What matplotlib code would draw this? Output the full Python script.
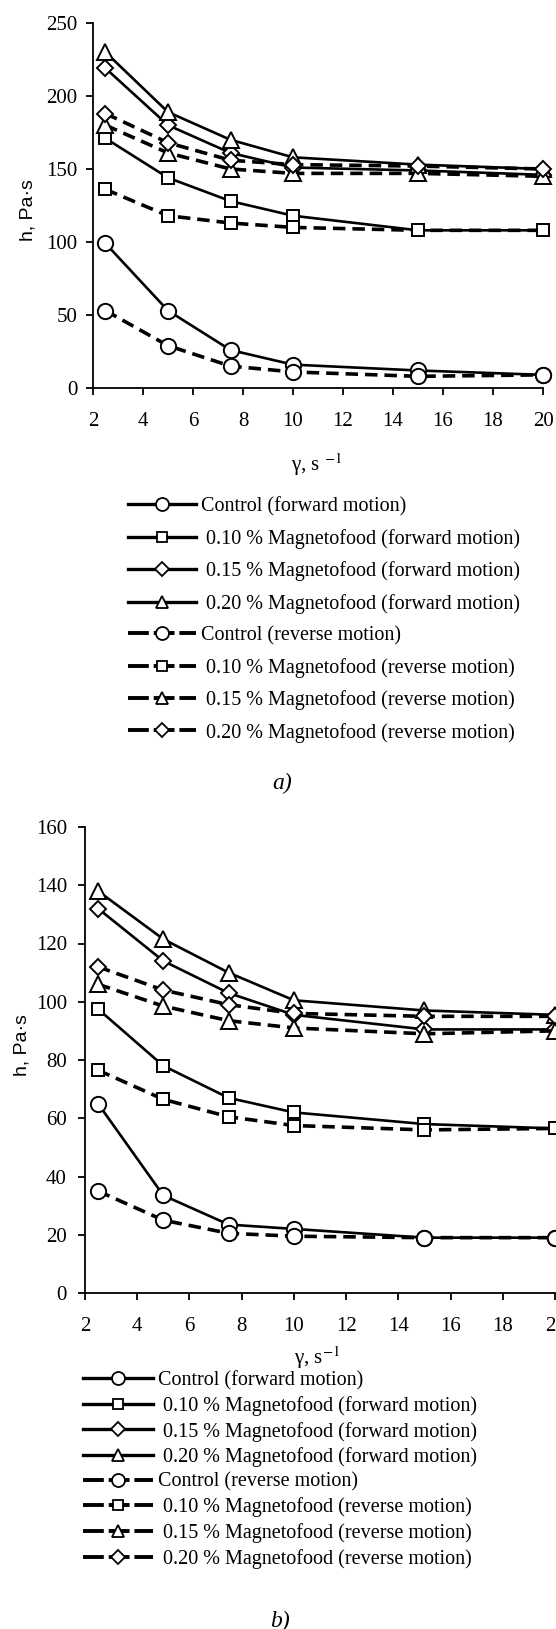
import matplotlib
matplotlib.use('Agg')
import matplotlib.pyplot as plt
from matplotlib.lines import Line2D

plt.rcParams['font.family'] = ['Liberation Serif', 'DejaVu Serif']
plt.rcParams['mathtext.fontset'] = 'stix'
plt.rcParams['lines.scale_dashes'] = False

shear_rate = [2.5, 5, 7.5, 10, 15, 20]

labels = ['Control (forward motion)',
          ' 0.10 % Magnetofood (forward motion)',
          ' 0.15 % Magnetofood (forward motion)',
          ' 0.20 % Magnetofood (forward motion)',
          'Control (reverse motion)',
          ' 0.10 % Magnetofood (reverse motion)',
          ' 0.15 % Magnetofood (reverse motion)',
          ' 0.20 % Magnetofood (reverse motion)']

# a) viscosity, Pa*s
a_control_fwd = [99, 53, 26, 16, 12, 9]
a_010_fwd = [171, 144, 128, 118, 108, 108]
a_015_fwd = [219, 180, 161, 151, 149, 146]
a_020_fwd = [230, 189, 170, 158, 153, 150]
a_control_rev = [53, 29, 15, 11, 8, 9]
a_010_rev = [136, 118, 113, 110, 108, 108]
a_015_rev = [180, 161, 150, 147, 147, 145]
a_020_rev = [188, 168, 156, 153, 152, 150]

# b) viscosity, Pa*s
b_control_fwd = [65, 33.5, 23.5, 22, 19, 19]
b_010_fwd = [97.5, 78, 67, 62, 58, 56.5]
b_015_fwd = [132, 114, 103, 95.5, 90.5, 90.5]
b_020_fwd = [138, 121.5, 110, 100.5, 97, 95.5]
b_control_rev = [35, 25, 20.5, 19.5, 19, 19]
b_010_rev = [76.5, 66.5, 60.5, 57.5, 56, 56.5]
b_015_rev = [106, 98.5, 93.5, 91, 89, 90]
b_020_rev = [112, 104, 99, 96, 95, 95]

markers = ['o', 's', 'D', '^', 'o', 's', '^', 'D']
msizes = {'o': 11, 's': 9, 'D': 8, '^': 11}
solid = dict(color='black', lw=1.9, linestyle='-')
dashed = dict(color='black', lw=2.6, linestyle=(0, (9, 5)))
dashed_leg = dict(color='black', lw=2.8, linestyle=(0, (15, 3.5)))

W, H = 556, 1629
fig = plt.figure(figsize=(W / 100, H / 100), dpi=100)


def px_axes(l, r, t, b):
    return fig.add_axes([l / W, 1 - b / H, (r - l) / W, (b - t) / H])


def style(ax, ymax, ystep, ypad):
    ax.set_xlim(2, 20)
    ax.set_ylim(0, ymax)
    ax.set_xticks(range(2, 21, 2))
    ax.set_yticks(range(0, ymax + 1, ystep))
    ax.spines['top'].set_visible(False)
    ax.spines['right'].set_visible(False)
    for s in ['left', 'bottom']:
        ax.spines[s].set_linewidth(1.3)
    ax.tick_params(axis='x', direction='out', length=5, width=1.3,
                   labelsize=15, pad=12)
    ax.tick_params(axis='y', direction='out', length=5, width=1.3,
                   labelsize=15, pad=ypad)


def draw(ax, series):
    for i, (y, m) in enumerate(zip(series, markers)):
        ls = solid if i < 4 else dashed
        ax.plot(shear_rate, y, marker=m, ms=msizes[m], mfc='white',
                mec='black', mew=1.4, clip_on=False, zorder=3, **ls)


def legend_handles():
    hs = []
    for i, m in enumerate(markers):
        ls = dict(solid, lw=2.4) if i < 4 else dashed_leg
        hs.append(Line2D([], [], marker=m, ms=msizes[m] * 0.85, mfc='white',
                         mec='black', mew=1.3, **ls))
    return hs


# ---- a) ----
ax1 = px_axes(93, 543, 23, 388)
draw(ax1, [a_control_fwd, a_010_fwd, a_015_fwd, a_020_fwd,
           a_control_rev, a_010_rev, a_015_rev, a_020_rev])
style(ax1, 250, 50, 6)
fig.text(28 / W, 1 - 210 / H, 'h, Pa·s', rotation=90, ha='center',
         va='center', fontsize=14, family='Liberation Sans')
fig.text(317 / W, 1 - 465 / H, r'γ, s $^{-1}$', ha='center', va='center',
         fontsize=15)
fig.legend(legend_handles(), labels, loc='upper left',
           bbox_to_anchor=(128 / W, 1 - 497 / H), frameon=False,
           fontsize=14.5, handlelength=3.4, handletextpad=0.22,
           labelspacing=0.62, borderpad=0, borderaxespad=0, numpoints=1)
fig.text(282 / W, 1 - 783 / H, 'a)', style='italic', ha='center',
         va='center', fontsize=17)

# ---- b) ----
ax2 = px_axes(85, 555, 827, 1293)
draw(ax2, [b_control_fwd, b_010_fwd, b_015_fwd, b_020_fwd,
           b_control_rev, b_010_rev, b_015_rev, b_020_rev])
style(ax2, 160, 20, 8)
fig.text(22 / W, 1 - 1045 / H, 'h, Pa·s', rotation=90, ha='center',
         va='center', fontsize=14, family='Liberation Sans')
fig.text(317 / W, 1 - 1358 / H, r'γ, s$^{-1}$', ha='center', va='center',
         fontsize=15)
fig.legend(legend_handles(), labels, loc='upper left',
           bbox_to_anchor=(83 / W, 1 - 1371 / H), frameon=False,
           fontsize=14.5, handlelength=3.5, handletextpad=0.22,
           labelspacing=0.28, borderpad=0, borderaxespad=0, numpoints=1)
fig.text(280 / W, 1 - 1621 / H, 'b)', style='italic', ha='center',
         va='center', fontsize=17)

fig.savefig('out.png', dpi=100)
